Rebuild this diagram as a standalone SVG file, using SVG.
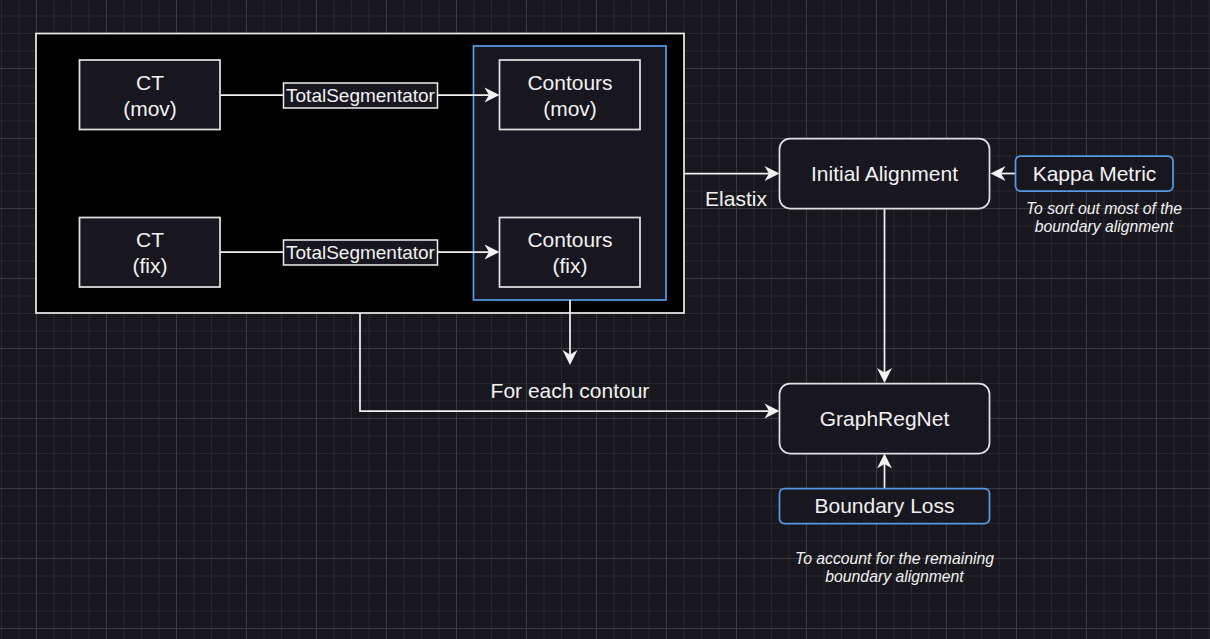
<svg xmlns="http://www.w3.org/2000/svg" width="1210" height="639" viewBox="0 0 1210 639">
  <defs>
    <pattern id="grid" patternUnits="userSpaceOnUse" x="36" y="-2" width="70" height="70">
      <path d="M18,0V70M35.5,0V70M53,0V70M0,18H70M0,35.5H70M0,53H70" stroke="#28262e" stroke-width="1" fill="none"/>
      <path d="M0.5,0V70M0,0.5H70" stroke="#3c3a41" stroke-width="1" fill="none"/>
    </pattern>
    <marker id="arr" markerUnits="userSpaceOnUse" markerWidth="16" markerHeight="16" refX="12" refY="7.5" orient="auto" overflow="visible">
      <path d="M15,7.5 L0,0 L4.5,7.5 L0,15 Z" fill="#f2f2f2"/>
    </marker>
    <style>
      .box { fill: #18161e; stroke: #e0e0e0; stroke-width: 1.75; }
      .blue { fill: #18161e; stroke: #5598e4; stroke-width: 1.75; }
      .lbl { fill: #18161e; stroke: #f0f0f0; stroke-width: 1.5; }
      .t { font-family: "Liberation Sans", Arial, sans-serif; font-size: 21px; fill: #f2f2f2; text-anchor: middle; }
      .ts { font-family: "Liberation Sans", Arial, sans-serif; font-size: 19px; fill: #f2f2f2; text-anchor: middle; }
      .it { font-family: "Liberation Sans", Arial, sans-serif; font-size: 15.75px; font-style: italic; fill: #f2f2f2; text-anchor: middle; }
      .edge { fill: none; stroke: #f0f0f0; stroke-width: 1.75; }
    </style>
  </defs>
  <rect width="1210" height="639" fill="#18171e"/>
  <rect width="1210" height="639" fill="url(#grid)"/>

  <g id="outer">
    <rect x="36" y="33.5" width="648" height="279.5" fill="#000000" stroke="#e8e8e8" stroke-width="1.75"/>
  </g>
  <g id="contours-container">
    <rect class="blue" x="473.5" y="46" width="192.5" height="254"/>
  </g>

  <g id="edges">
    <path class="edge" d="M220,95 H283.5"/>
    <path class="edge" d="M437.5,95 H496.5" marker-end="url(#arr)"/>
    <path class="edge" d="M220,252 H283.5"/>
    <path class="edge" d="M437.5,252 H496.5" marker-end="url(#arr)"/>
    <path class="edge" d="M684,173.5 H776.5" marker-end="url(#arr)"/>
    <path class="edge" d="M1015.5,173.5 H993.5" marker-end="url(#arr)"/>
    <path class="edge" d="M884.5,208.5 V380" marker-end="url(#arr)"/>
    <path class="edge" d="M570,300 V362" marker-end="url(#arr)"/>
    <path class="edge" d="M360,313 V411 H776.5" marker-end="url(#arr)"/>
    <path class="edge" d="M884.5,488.5 V456.5" marker-end="url(#arr)"/>
  </g>

  <g id="seg-label-mov">
    <rect class="lbl" x="283.5" y="83" width="154" height="25"/>
    <text class="ts" x="360.5" y="102">TotalSegmentator</text>
  </g>
  <g id="seg-label-fix">
    <rect class="lbl" x="283.5" y="240" width="154" height="25"/>
    <text class="ts" x="360.5" y="259">TotalSegmentator</text>
  </g>

  <g id="ct-mov">
    <rect class="box" x="79.5" y="60" width="140.5" height="69.5"/>
    <text class="t" x="150" y="90">CT</text>
    <text class="t" x="150" y="116">(mov)</text>
  </g>
  <g id="ct-fix">
    <rect class="box" x="79.5" y="217.5" width="140.5" height="69.5"/>
    <text class="t" x="150" y="247">CT</text>
    <text class="t" x="150" y="273">(fix)</text>
  </g>
  <g id="contours-mov">
    <rect class="box" x="499.5" y="60" width="140.5" height="69.5"/>
    <text class="t" x="570" y="90">Contours</text>
    <text class="t" x="570" y="116">(mov)</text>
  </g>
  <g id="contours-fix">
    <rect class="box" x="499.5" y="217.5" width="140.5" height="69.5"/>
    <text class="t" x="570" y="247">Contours</text>
    <text class="t" x="570" y="273">(fix)</text>
  </g>

  <g id="elastix-label">
    <text class="t" x="736" y="206">Elastix</text>
  </g>
  <g id="for-each-label">
    <text class="t" x="570" y="398">For each contour</text>
  </g>

  <g id="initial-alignment">
    <rect class="box" x="779.5" y="138.5" width="210" height="70" rx="10.5"/>
    <text class="t" x="884.5" y="181">Initial Alignment</text>
  </g>
  <g id="kappa-metric">
    <rect class="blue" x="1015.5" y="156" width="157.5" height="35" rx="5"/>
    <text class="t" x="1094.5" y="181">Kappa Metric</text>
  </g>
  <g id="kappa-note">
    <text class="it" x="1104" y="213.5">To sort out most of the</text>
    <text class="it" x="1104" y="232">boundary alignment</text>
  </g>
  <g id="graphregnet">
    <rect class="box" x="779.5" y="383.5" width="210" height="70" rx="10.5"/>
    <text class="t" x="884.5" y="426">GraphRegNet</text>
  </g>
  <g id="boundary-loss">
    <rect class="blue" x="779.5" y="488.5" width="210" height="35" rx="5"/>
    <text class="t" x="884.5" y="513">Boundary Loss</text>
  </g>
  <g id="boundary-note">
    <text class="it" x="894.5" y="563.5">To account for the remaining</text>
    <text class="it" x="894.5" y="582">boundary alignment</text>
  </g>
</svg>
